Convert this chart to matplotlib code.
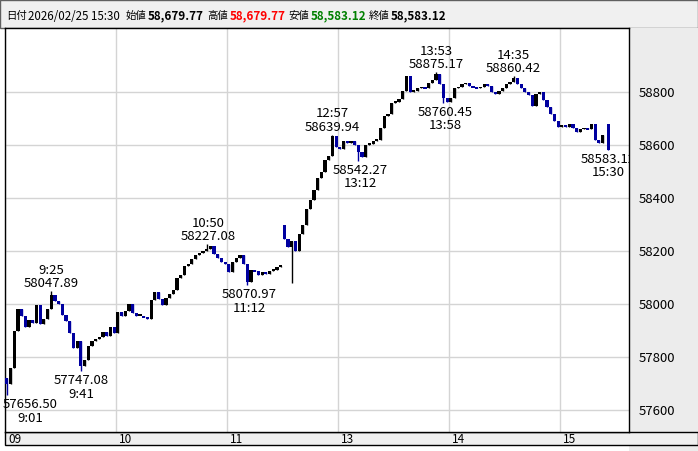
import numpy as np
import matplotlib.pyplot as plt
import matplotlib.transforms as mtransforms
from matplotlib.patches import Rectangle

plt.rcParams['font.family'] = ['Noto Sans CJK JP', 'DejaVu Sans']

# 2分足の終値 (前場 9:00-11:30, 後場 12:30-15:25)
am_open = 57720.0
am_close = [57700, 57760, 57900, 57980, 57955, 57915, 57940, 57930, 57995, 57925,
            57945, 57980, 58035, 58010, 58000, 57960, 57935, 57890, 57835, 57860,
            57765, 57790, 57840, 57860, 57870, 57875, 57895, 57880, 57915, 57890,
            57970, 57955, 57975, 58000, 57965, 57955, 57955, 57950, 57945, 58015,
            58045, 58020, 57995, 58025, 58040, 58055, 58100, 58110, 58145, 58150,
            58170, 58185, 58195, 58200, 58210, 58220, 58190, 58175, 58160, 58150,
            58120, 58160, 58175, 58185, 58150, 58085, 58130, 58125, 58110, 58120,
            58115, 58125, 58130, 58140, 58145]
pm_open = 58300.0
pm_close = [58245, 58215, 58240, 58200, 58265, 58300, 58360, 58395, 58430, 58475,
            58500, 58545, 58560, 58635, 58595, 58585, 58615, 58610, 58615, 58600,
            58575, 58555, 58600, 58605, 58615, 58620, 58665, 58710, 58720, 58760,
            58765, 58775, 58805, 58860, 58800, 58805, 58815, 58820, 58815, 58835,
            58845, 58870, 58830, 58780, 58765, 58780, 58815, 58820, 58830, 58835,
            58825, 58820, 58815, 58820, 58830, 58825, 58800, 58795, 58805, 58815,
            58830, 58840, 58855, 58830, 58815, 58800, 58790, 58750, 58795, 58800,
            58770, 58745, 58720, 58690, 58670, 58675, 58670, 58680, 58665, 58650,
            58660, 58665, 58660, 58680, 58620, 58610, 58638]
# 大引け
last_open, last_close = 58679.77, 58583.12

# 高値・安値の注記
ext_time = ["9:01", "9:25", "9:41", "10:50", "11:12", "12:57", "13:12", "13:53", "13:58", "14:35"]
ext_price = [57656.50, 58047.89, 57747.08, 58227.08, 58070.97, 58639.94, 58542.27, 58875.17, 58760.45, 58860.42]
ext_kind = ["low", "high", "low", "high", "low", "high", "low", "high", "low", "high"]
spike_t, spike_low = 155, 58080.0

y_ticks = [57600, 57800, 58000, 58200, 58400, 58600, 58800]
x_ticks = [0, 60, 120, 180, 240, 300]
x_labels = ["09", "10", "11", "13", "14", "15"]


def to_t(s):
    h, m = map(int, s.split(":"))
    mins = (h - 9) * 60 + m
    return mins if mins <= 150 else mins - 60


t_am = np.arange(1, 150, 2)
t_pm = np.arange(151, 324, 2)
t_last = 326
t = np.concatenate([t_am, t_pm, [t_last]])
close = np.array(am_close + pm_close + [last_close], dtype=float)
opn = np.concatenate([[am_open], am_close[:-1], [pm_open], pm_close[:-1], [last_open]]).astype(float)
high = np.maximum(opn, close)
low = np.minimum(opn, close)
for s, p, k in zip(ext_time, ext_price, ext_kind):
    i = np.argmin(np.abs(t - to_t(s)))
    if k == "high":
        high[i] = max(high[i], p)
    else:
        low[i] = min(low[i], p)
low[np.where(t == spike_t)[0][0]] = spike_low

W, H = 698, 451
fig = plt.figure(figsize=(W / 100, H / 100), dpi=100)


def fx(x):
    return x / W


def fy(y):
    return 1 - y / H


# 枠
fig.patches.append(Rectangle((0, fy(28)), 1, 28 / H, transform=fig.transFigure,
                             facecolor='#f0f0f0', edgecolor='#606060', lw=1, zorder=-2))
fig.patches.append(Rectangle((fx(629), 0), fx(69), fy(28), transform=fig.transFigure,
                             facecolor='#ececec', edgecolor='none', zorder=-2))
fig.patches.append(Rectangle((fx(5), fy(445)), fx(693), 13 / H, transform=fig.transFigure,
                             facecolor='#f0f0f0', edgecolor='black', lw=1, zorder=-1))

ax = fig.add_axes([fx(5), fy(432), fx(624), 404 / H])
ax.set_xlim(0, 337.3)
ax.set_ylim(57517, 59043)

up = close >= opn
cols = np.where(up, 'black', '#0000a0')
body = np.where(np.abs(close - opn) < 7, np.where(up, 7, -7), close - opn)
ax.vlines(t, low, high, colors=cols, lw=1, zorder=3)
ax.bar(t, body, bottom=opn, width=1.7, color=cols, zorder=3)

# 注記
for s, p, k in zip(ext_time, ext_price, ext_kind):
    tt = to_t(s)
    dx = 23 if s == "9:01" else 0
    if k == "high":
        ax.annotate(f"{s}\n{p:.2f}", xy=(tt, p), xytext=(dx, 1), textcoords='offset pixels',
                    ha='center', va='bottom', fontsize=9.5, linespacing=1.05, zorder=4)
    else:
        ax.annotate(f"{p:.2f}\n{s}", xy=(tt, p), xytext=(dx, -3), textcoords='offset pixels',
                    ha='center', va='top', fontsize=9.5, linespacing=1.05, zorder=4)
down3 = ax.transData + mtransforms.ScaledTranslation(0, -3 / 100, fig.dpi_scale_trans)
ax.text(t_last, last_close, f"{last_close:.2f}\n15:30", transform=down3, ha='center',
        va='top', fontsize=9.5, linespacing=1.05, zorder=4, clip_on=True)

ax.set_yticks(y_ticks)
ax.set_xticks(x_ticks)
ax.set_xticklabels(x_labels)
ax.yaxis.tick_right()
ax.tick_params(axis='y', length=0, pad=7, labelsize=9.5)
ax.tick_params(axis='x', length=0, pad=1, labelsize=8.5)
off = mtransforms.ScaledTranslation(3 / 100, 0, fig.dpi_scale_trans)
for lab in ax.get_xticklabels():
    lab.set_horizontalalignment('left')
    lab.set_transform(lab.get_transform() + off)
ax.grid(True, color='#d4d4d4', lw=1)
ax.set_axisbelow(True)
for sp in ax.spines.values():
    sp.set_color('black')
    sp.set_linewidth(1)

# ヘッダー
yc = fy(16)
fig.text(fx(6), yc, "日付", fontsize=7.5, va='center')
fig.text(fx(28), yc, "2026/02/25 15:30", fontsize=8.3, va='center')
items = [("始値", last_open, 'black', 126, 148), ("高値", high[-1], '#ff0000', 207, 230),
         ("安値", low[-1], '#008000', 288, 311), ("終値", last_close, 'black', 369, 391)]
for name, v, c, x1, x2 in items:
    fig.text(fx(x1), yc, name, fontsize=7.5, va='center')
    fig.text(fx(x2), yc, f"{v:,.2f}", fontsize=8.4, fontweight='bold', color=c, va='center')

fig.savefig("out.png", dpi=100)
